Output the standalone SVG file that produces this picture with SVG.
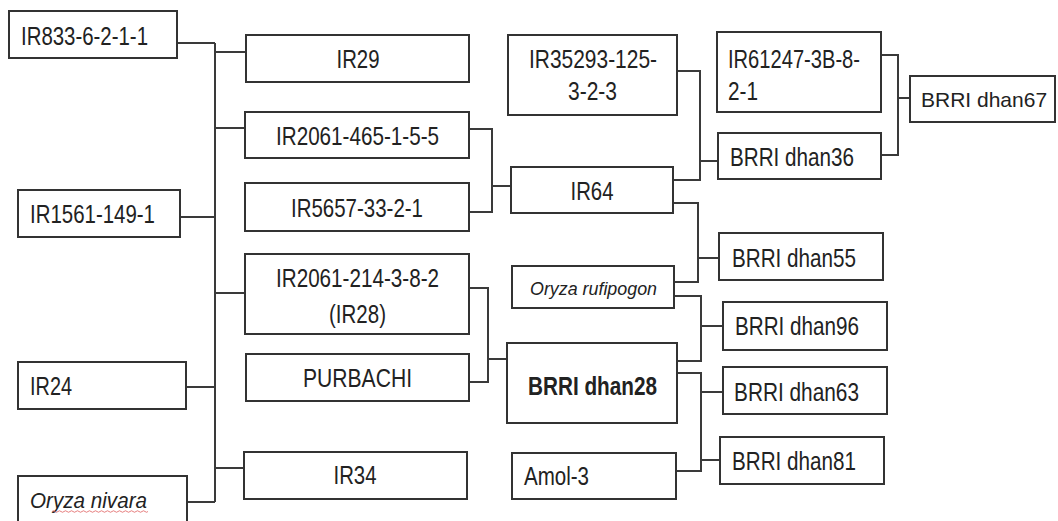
<svg xmlns="http://www.w3.org/2000/svg" width="1058" height="521" viewBox="0 0 1058 521">
<style>
.b{fill:#fff;stroke:#333;stroke-width:2}
.t{font-family:"Liberation Sans",Arial,sans-serif;font-size:25px;fill:#222}
.i{font-style:italic}
.bd{font-weight:bold}
.m{text-anchor:middle}
#connectors path{fill:none;stroke:#3a3a3a;stroke-width:2}
</style>
<rect width="1058" height="521" fill="#fff"/>
<g id="connectors">
<path d="M215,43V502M177,43H215M215,52H246M215,128H245M180,217H215M215,293H245M186,387H215M215,468H244M187,502H215"/>
<path d="M469,129H492V212H469M492,186H511"/>
<path d="M469,288H488V382H469M488,359H507"/>
<path d="M677,71H700V180H673M700,161H718"/>
<path d="M673,203H698V282H674M698,258H719"/>
<path d="M674,296H701V361H677M701,326H723"/>
<path d="M677,373H701V471H676M701,392H723M701,460H720"/>
<path d="M880,55H898V155H881M898,98H910"/>
</g>
<g id="n-ir833"><rect class="b" x="9" y="11" width="168" height="47"/><text class="t" x="21" y="45" textLength="127" lengthAdjust="spacingAndGlyphs">IR833-6-2-1-1</text></g>
<g id="n-ir29"><rect class="b" x="246" y="35" width="223" height="47"/><text class="t m" x="358" y="68" textLength="43" lengthAdjust="spacingAndGlyphs">IR29</text></g>
<g id="n-ir2061-465"><rect class="b" x="245" y="112" width="224" height="46"/><text class="t" x="276" y="145" textLength="163" lengthAdjust="spacingAndGlyphs">IR2061-465-1-5-5</text></g>
<g id="n-ir5657"><rect class="b" x="245" y="183" width="224" height="48"/><text class="t" x="291" y="217" textLength="132" lengthAdjust="spacingAndGlyphs">IR5657-33-2-1</text></g>
<g id="n-ir1561"><rect class="b" x="18" y="190" width="162" height="47"/><text class="t" x="30" y="223" textLength="125" lengthAdjust="spacingAndGlyphs">IR1561-149-1</text></g>
<g id="n-ir2061-214"><rect class="b" x="245" y="254" width="224" height="80"/><text class="t" x="276" y="287" textLength="163" lengthAdjust="spacingAndGlyphs">IR2061-214-3-8-2</text><text class="t m" x="357.5" y="323" textLength="57" lengthAdjust="spacingAndGlyphs">(IR28)</text></g>
<g id="n-purbachi"><rect class="b" x="246" y="354" width="223" height="47"/><text class="t" x="303" y="387" textLength="109" lengthAdjust="spacingAndGlyphs">PURBACHI</text></g>
<g id="n-ir24"><rect class="b" x="18" y="362" width="168" height="47"/><text class="t" x="30" y="395" textLength="42" lengthAdjust="spacingAndGlyphs">IR24</text></g>
<g id="n-ir34"><rect class="b" x="244" y="452" width="223" height="47"/><text class="t m" x="355" y="484" textLength="43" lengthAdjust="spacingAndGlyphs">IR34</text></g>
<g id="n-nivara"><rect class="b" x="18" y="476" width="169" height="60"/><text class="t i" x="30" y="508" style="font-size:22px" textLength="117" lengthAdjust="spacingAndGlyphs">Oryza nivara</text><path d="M52,511.5q1.5,-1.5 3,0t3,0t3,0t3,0t3,0t3,0t3,0t3,0t3,0t3,0t3,0t3,0t3,0t3,0t3,0t3,0t3,0t3,0t3,0t3,0t3,0t3,0t3,0t3,0t3,0t3,0t3,0t3,0t3,0t3,0t3,0t3,0" fill="none" stroke="#e06060" stroke-width="0.8"/></g>
<g id="n-ir35293"><rect class="b" x="508" y="35" width="169" height="80"/><text class="t" x="529" y="68" textLength="128" lengthAdjust="spacingAndGlyphs">IR35293-125-</text><text class="t" x="568" y="100" textLength="49" lengthAdjust="spacingAndGlyphs">3-2-3</text></g>
<g id="n-ir64"><rect class="b" x="511" y="167" width="162" height="46"/><text class="t m" x="592" y="200" textLength="43" lengthAdjust="spacingAndGlyphs">IR64</text></g>
<g id="n-rufipogon"><rect class="b" x="512" y="266" width="162" height="42"/><text class="t i" x="530" y="295" style="font-size:19px" textLength="127" lengthAdjust="spacingAndGlyphs">Oryza rufipogon</text></g>
<g id="n-dhan28"><rect class="b" x="507" y="343" width="170" height="80"/><text class="t bd" x="528" y="395" textLength="129" lengthAdjust="spacingAndGlyphs">BRRI dhan28</text></g>
<g id="n-amol3"><rect class="b" x="512" y="453" width="164" height="46"/><text class="t" x="524" y="485" textLength="65" lengthAdjust="spacingAndGlyphs">Amol-3</text></g>
<g id="n-ir61247"><rect class="b" x="717" y="32" width="164" height="80"/><text class="t" x="728" y="68" textLength="132" lengthAdjust="spacingAndGlyphs">IR61247-3B-8-</text><text class="t" x="728" y="100" textLength="30" lengthAdjust="spacingAndGlyphs">2-1</text></g>
<g id="n-dhan36"><rect class="b" x="718" y="133" width="163" height="46"/><text class="t" x="730" y="166" textLength="124" lengthAdjust="spacingAndGlyphs">BRRI dhan36</text></g>
<g id="n-dhan55"><rect class="b" x="719" y="233" width="164" height="47"/><text class="t" x="732" y="267" textLength="124" lengthAdjust="spacingAndGlyphs">BRRI dhan55</text></g>
<g id="n-dhan96"><rect class="b" x="723" y="302" width="164" height="48"/><text class="t" x="735" y="335" textLength="124" lengthAdjust="spacingAndGlyphs">BRRI dhan96</text></g>
<g id="n-dhan63"><rect class="b" x="723" y="367" width="164" height="47"/><text class="t" x="734" y="401" textLength="125" lengthAdjust="spacingAndGlyphs">BRRI dhan63</text></g>
<g id="n-dhan81"><rect class="b" x="720" y="437" width="164" height="47"/><text class="t" x="732" y="470" textLength="124" lengthAdjust="spacingAndGlyphs">BRRI dhan81</text></g>
<g id="n-dhan67"><rect class="b" x="910" y="76" width="145" height="46"/><text class="t" x="921" y="107" style="font-size:21px">BRRI dhan67</text></g>
</svg>
